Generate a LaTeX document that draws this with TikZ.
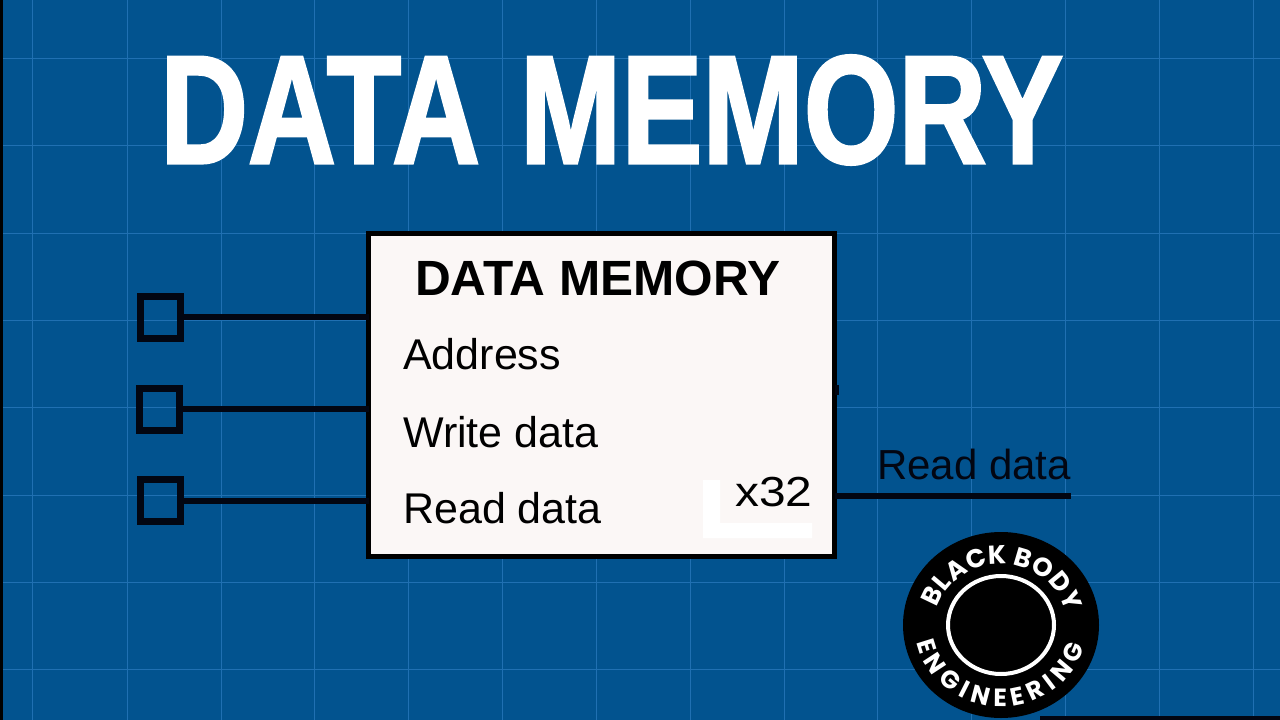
\documentclass[tikz,border=0pt]{standalone}
\usepackage{fontspec}
\setmainfont{Liberation Sans}
\newfontfamily\titlefont[FakeBold=2]{Liberation Sans}
\newfontfamily\logofont{Poppins}
\usetikzlibrary{decorations.text}
\definecolor{bgblue}{RGB}{2,83,143}
\definecolor{gridblue}{RGB}{32,112,178}
\definecolor{boxfill}{RGB}{251,247,246}
\definecolor{inkdark}{RGB}{2,6,18}
\tikzset{
  wire/.style={draw=inkdark,line width=6pt},
  port/.style={draw=inkdark,line width=7pt,minimum width=40pt,minimum height=42pt,inner sep=0pt,outer sep=0pt},
  label/.style={anchor=base west,inner sep=0pt,text=black,font=\fontsize{43}{43}\selectfont},
}
\begin{document}
\begin{tikzpicture}[x=1pt,y=-1pt]
\useasboundingbox (0,0) rectangle (1280,720);
\fill[bgblue] (0,0) rectangle (1280,720);
\fill[black] (0,0) rectangle (3,720);
\foreach \gx in {32,127,221,314,408,502,596,690,784,877,971,1065,1159,1253}
  \draw[gridblue,line width=0.9pt] (\gx,0) -- (\gx,720);
\foreach \gy in {58,145,233,320,407,495,582,669}
  \draw[gridblue,line width=0.9pt] (3,\gy) -- (1280,\gy);
\node[anchor=base west,inner sep=0pt,text=white,xscale=0.79,font=\titlefont\bfseries\fontsize{154}{154}\selectfont] (title) at (160,163) {DATA\hspace{8pt} MEMORY};
\node[draw=black,line width=5pt,fill=boxfill,minimum width=466pt,minimum height=323pt,inner sep=0pt,outer sep=0pt] (box) at (601.5,395) {};
\fill[inkdark] (835,385) rectangle (838.5,395);
\fill[white] (703,480) -- (720,480) -- (720,523) -- (812,523) -- (812,538) -- (703,538) -- cycle;
\node[anchor=base west,inner sep=0pt,text=black,font=\bfseries\fontsize{49.5}{49.5}\selectfont] (head) at (415,295) {DATA MEMORY};
\node[label] (addr) at (403,369) {Address};
\node[label] (wdata) at (403,447) {Write data};
\node[label] (rdata) at (403,523) {Read data};
\node[anchor=base west,inner sep=0pt,text=black,xscale=1.14,font=\fontsize{42}{42}\selectfont] (xtt) at (735,506) {x32};
\node[port] (s1) at (160.5,317) {};
\node[port] (s2) at (159.5,409) {};
\node[port] (s3) at (160.5,500.5) {};
\draw[wire] (s1.east) -- (s1.east -| box.west);
\draw[wire] (s2.east) -- (s2.east -| box.west);
\draw[wire] (s3.east) -- (s3.east -| box.west);
\coordinate (rend) at (1071,496);
\draw[wire] (rend -| box.east) -- (rend);
\node[anchor=base west,inner sep=0pt,text=inkdark,font=\fontsize{42}{42}\selectfont] (rout) at (877,479) {Read data};
\fill[inkdark] (1040,716) rectangle (1280,720);
% logo
\begin{scope}[x=1pt,y=1pt,shift={(1001pt,-625pt)}]
\fill[black] (0,0) circle[x radius=98,y radius=93];
\draw[white,line width=4pt] (0,0) circle[x radius=53,y radius=49];
\path[decorate,decoration={text along path,text align=fit to path,text={|\logofont\bfseries\fontsize{26}{26}\selectfont\color{white}|BLACK BODY}}]
  (164:66 and 61) arc[start angle=164,end angle=12,x radius=66,y radius=61];
\path[decorate,decoration={text along path,text align=fit to path,text={|\logofont\bfseries\fontsize{25}{25}\selectfont\color{white}|ENGINEERING}}]
  (192:86 and 82) arc[start angle=192,end angle=345,x radius=86,y radius=82];
\end{scope}
\end{tikzpicture}
\end{document}
